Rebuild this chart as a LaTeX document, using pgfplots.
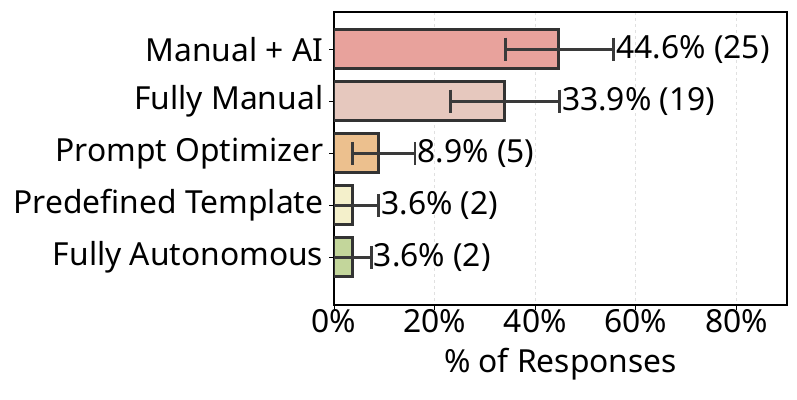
\documentclass[border=0pt]{standalone}
\usepackage{pgfplots}
\pgfplotsset{compat=1.18}
\usepackage{fontspec}
\setmainfont{Noto Sans}

\definecolor{cMix}{HTML}{E8A29C}
\definecolor{cMan}{HTML}{E6C8BE}
\definecolor{cOpt}{HTML}{ECC08E}
\definecolor{cTpl}{HTML}{F4F0CB}
\definecolor{cAut}{HTML}{C3D69B}
\definecolor{edge}{HTML}{333333}
\definecolor{errc}{HTML}{3A3A3A}

\begin{document}
\fontsize{32}{38}\selectfont
\begin{tikzpicture}
\begin{axis}[
    scale only axis,
    width=456pt, height=295pt,
    xmin=0, xmax=90,
    ymin=-0.71, ymax=4.92,
    y dir=reverse,
    xtick={0,20,40,60,80},
    xticklabels={0\%,20\%,40\%,60\%,80\%},
    ytick={0,1,2,3,4},
    yticklabels={Manual + AI, Fully Manual, Prompt Optimizer, Predefined Template, Fully Autonomous},
    tick align=outside,
    major tick length=5pt,
    tick style={black, line width=1pt},
    xtick pos=bottom, ytick pos=left,
    axis line style={black, line width=2.5pt},
    xmajorgrids=true,
    grid style={dashed, black!12, line width=0.8pt},
    xlabel={\% of Responses},
    xlabel style={yshift=7pt},
    ticklabel style={font=\fontsize{32}{38}\selectfont},
    label style={font=\fontsize{32}{38}\selectfont},
    yticklabel style={xshift=5pt},
    xticklabel style={yshift=11pt},
    every axis plot/.append style={bar width=39pt, bar shift=0pt},
    eb/.style={error bars/.cd, x dir=both, x explicit, error mark=none,
        error bar style={line width=2.8pt, errc}},
]
\addplot[xbar, fill=cMix, draw=edge, line width=2.8pt, eb]
    coordinates {(44.6,0) += (11.0,0) -= (10.6,0)};
\addplot[xbar, fill=cMan, draw=edge, line width=2.8pt, eb]
    coordinates {(33.9,1) += (10.9,0) -= (10.7,0)};
\addplot[xbar, fill=cOpt, draw=edge, line width=2.8pt, eb]
    coordinates {(8.9,2) += (7.2,0) -= (5.3,0)};
\addplot[xbar, fill=cTpl, draw=edge, line width=2.8pt, eb]
    coordinates {(3.6,3) += (5.3,0) -= (3.6,0)};
\addplot[xbar, fill=cAut, draw=edge, line width=2.8pt, eb]
    coordinates {(3.6,4) += (3.8,0) -= (3.6,0)};
% error bar caps at the interval ends
\addplot[only marks, mark=|, mark size=11.5pt, errc,
    mark options={line width=3pt}]
    coordinates {
        (34.0,0) (55.6,0)
        (23.2,1) (44.8,1)
        (3.6,2) (16.1,2)
        (8.9,3) (7.4,4)
    };
% value labels at the upper end of each interval
\addplot[draw=none, mark=none, point meta=explicit symbolic,
    nodes near coords,
    nodes near coords style={anchor=west, inner sep=1pt, xshift=1.5pt, font=\fontsize{32}{38}\selectfont, text=black}]
    coordinates {
        (55.6,0) [44.6\% (25)]
        (44.8,1) [33.9\% (19)]
        (16.1,2) [8.9\% (5)]
        (8.9,3) [3.6\% (2)]
        (7.4,4) [3.6\% (2)]
    };
\end{axis}
% white margin around the figure
\coordinate (bl) at (current bounding box.south west);
\coordinate (tr) at (current bounding box.north east);
\path ([shift={(-3pt,-9pt)}]bl) rectangle ([shift={(9pt,11pt)}]tr);
\end{tikzpicture}
\end{document}
